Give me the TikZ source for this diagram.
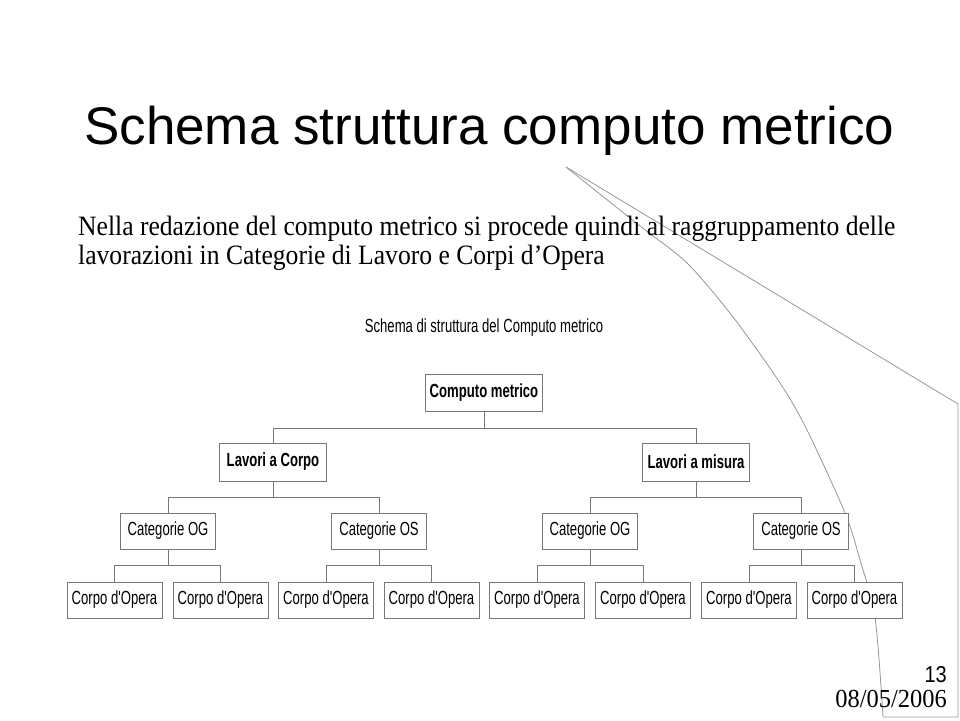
\documentclass[tikz,border=0pt]{standalone}
\usepackage{fontspec}
\setmainfont{Liberation Serif}
\newfontfamily\arialfont{Liberation Sans}
\newfontfamily\narrowfont[FakeStretch=0.69]{Liberation Sans}
\newfontfamily\bodyfont[FakeStretch=0.914]{Liberation Serif}
\newfontfamily\footsans[FakeStretch=0.87]{Liberation Sans}
\newfontfamily\footserif[FakeStretch=0.94]{Liberation Serif}
\definecolor{linegray}{RGB}{120,120,120}
\definecolor{curlgray}{RGB}{150,150,150}
\tikzset{
  treebox/.style={draw=linegray, line width=0.9pt, fill=white, inner sep=0pt,
    font=\narrowfont\fontsize{19}{21}\selectfont, text=black},
  topbox/.style={treebox, minimum width=117pt, minimum height=37pt, font=\narrowfont\bfseries\fontsize{19}{21}\selectfont},
  midbox/.style={treebox, minimum width=107pt, minimum height=38pt, font=\narrowfont\bfseries\fontsize{19}{21}\selectfont},
  catbox/.style={treebox, minimum width=95pt, minimum height=36pt},
  leafbox/.style={treebox, minimum width=95pt, minimum height=36pt},
  conn/.style={draw=linegray, line width=0.9pt},
  curl/.style={draw=curlgray, line width=0.8pt}
}
\begin{document}
\begin{tikzpicture}[x=1pt,y=-1pt]
\useasboundingbox (0,0) rectangle (960,720);
% page-curl decoration
\coordinate (apex) at (566,167);
\coordinate (edgeA) at (958,404);
\coordinate (edgeB) at (958,717);
\coordinate (curlEnd) at (883,717);
\draw[curl] (apex) -- (edgeA) -- (edgeB) -- (curlEnd);
\draw[curl] plot[smooth] coordinates {(566,167) (640,226) (687,263) (733,317) (780,383) (807,430) (845,513) (860,560) (875,617) (883,717)};
% title and text
\node[anchor=base west, inner sep=0pt, font=\arialfont\fontsize{53}{60}\selectfont] (title) at (84,144) {Schema struttura computo metrico};
\node[anchor=base west, inner sep=0pt, font=\bodyfont\fontsize{28}{30}\selectfont] (body) at (78,235) {Nella redazione del computo metrico si procede quindi al raggruppamento delle};
\node[anchor=base west, inner sep=0pt, font=\bodyfont\fontsize{28}{30}\selectfont] (body2) at (78,264) {lavorazioni in Categorie di Lavoro e Corpi d’Opera};
\node[inner sep=0pt, font=\narrowfont\fontsize{19}{21}\selectfont] (sub) at (484,328) {Schema di struttura del Computo metrico};
% tree
\node[topbox] (cm) at (484,393) {Computo metrico};
\node[midbox] (lc) at (273,462) {Lavori a Corpo};
\node[midbox] (lm) at (696,462) {Lavori a misura};
\node[catbox] (og1) at (168,531) {Categorie OG};
\node[catbox] (os1) at (379,531) {Categorie OS};
\node[catbox] (og2) at (590,531) {Categorie OG};
\node[catbox] (os2) at (801,531) {Categorie OS};
\node[leafbox] (c1) at (114.5,600) {Corpo d'Opera};
\node[leafbox] (c2) at (220.5,600) {Corpo d'Opera};
\node[leafbox] (c3) at (326,600) {Corpo d'Opera};
\node[leafbox] (c4) at (431.5,600) {Corpo d'Opera};
\node[leafbox] (c5) at (537,600) {Corpo d'Opera};
\node[leafbox] (c6) at (643,600) {Corpo d'Opera};
\node[leafbox] (c7) at (749,600) {Corpo d'Opera};
\node[leafbox] (c8) at (854.5,600) {Corpo d'Opera};
\foreach \p/\c in {cm/lc, cm/lm, lc/og1, lc/os1, lm/og2, lm/os2,
  og1/c1, og1/c2, os1/c3, os1/c4, og2/c5, og2/c6, os2/c7, os2/c8}{
  \draw[conn] (\p.south) -- ++(0,16) -| (\c.north);
}
% footer
\node[anchor=base east, inner sep=0pt, font=\footsans\fontsize{23}{25}\selectfont] (pnum) at (947,682) {13};
\node[anchor=base east, inner sep=0pt, font=\footserif\fontsize{26}{28}\selectfont] (date) at (947,707) {08/05/2006};
\end{tikzpicture}
\end{document}
